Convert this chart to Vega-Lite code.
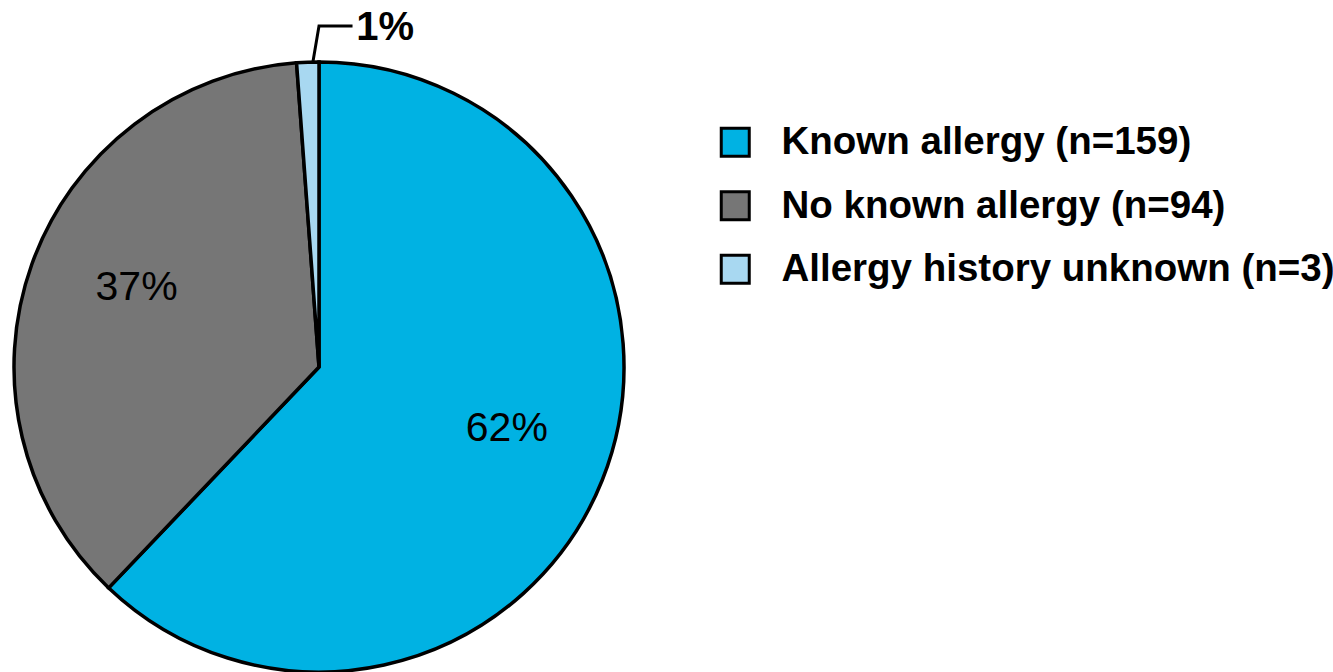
{
  "$schema": "https://vega.github.io/schema/vega-lite/v6.json",
  "width": 610,
  "height": 610,
  "autosize": {"type": "none"},
  "padding": {"left": 14, "top": 62, "right": 709, "bottom": 0},
  "background": "white",
  "config": {"view": {"stroke": null}},
  "datasets": {
    "slices": [
      {"category": "Known allergy (n=159)", "n": 159, "idx": 1, "label": "62%"},
      {"category": "No known allergy (n=94)", "n": 94, "idx": 2, "label": "37%"},
      {"category": "Allergy history unknown (n=3)", "n": 3, "idx": 3, "label": ""}
    ],
    "leader": [
      {"px": -0.02, "py": 1.0, "step": 1},
      {"px": 0.0, "py": 1.118, "step": 2},
      {"px": 0.105, "py": 1.118, "step": 3}
    ],
    "leaderLabel": [
      {"px": 0.122, "py": 1.112, "text": "1%"}
    ]
  },
  "layer": [
    {
      "data": {"name": "slices"},
      "mark": {"type": "arc", "outerRadius": 305, "stroke": "black", "strokeWidth": 3.5},
      "encoding": {
        "theta": {"field": "n", "type": "quantitative", "stack": true},
        "order": {"field": "idx", "type": "quantitative"},
        "color": {
          "field": "category",
          "type": "nominal",
          "sort": null,
          "scale": {
            "domain": ["Known allergy (n=159)", "No known allergy (n=94)", "Allergy history unknown (n=3)"],
            "range": ["#00B2E3", "#767676", "#A8D8F1"]
          },
          "legend": {
            "title": null,
            "orient": "none",
            "legendX": 702,
            "legendY": 61,
            "symbolType": "square",
            "symbolSize": 784,
            "symbolStrokeColor": "black",
            "symbolStrokeWidth": 3,
            "labelFont": "Liberation Sans",
            "labelFontSize": 38.5,
            "labelFontWeight": "bold",
            "labelColor": "black",
            "labelOffset": 27,
            "rowPadding": 22.5,
            "labelLimit": 0
          }
        }
      }
    },
    {
      "data": {"name": "slices"},
      "mark": {"type": "text", "radius": 198, "dy": -12, "dx": 4, "font": "Liberation Sans", "fontSize": 41, "color": "black", "align": "center", "baseline": "middle"},
      "encoding": {
        "theta": {"field": "n", "type": "quantitative", "stack": true},
        "order": {"field": "idx", "type": "quantitative"},
        "detail": {"field": "category", "type": "nominal"},
        "text": {"field": "label", "type": "nominal"}
      }
    },
    {
      "data": {"name": "leader"},
      "mark": {"type": "line", "color": "black", "strokeWidth": 3, "strokeCap": "square"},
      "encoding": {
        "x": {"field": "px", "type": "quantitative", "scale": {"domain": [-1, 1], "zero": false, "nice": false}, "axis": null},
        "y": {"field": "py", "type": "quantitative", "scale": {"domain": [-1, 1], "zero": false, "nice": false}, "axis": null},
        "order": {"field": "step", "type": "quantitative"}
      }
    },
    {
      "data": {"name": "leaderLabel"},
      "mark": {"type": "text", "font": "Liberation Sans", "fontSize": 40, "fontWeight": "bold", "color": "black", "align": "left", "baseline": "middle"},
      "encoding": {
        "x": {"field": "px", "type": "quantitative", "scale": {"domain": [-1, 1], "zero": false, "nice": false}, "axis": null},
        "y": {"field": "py", "type": "quantitative", "scale": {"domain": [-1, 1], "zero": false, "nice": false}, "axis": null},
        "text": {"field": "text", "type": "nominal"}
      }
    }
  ]
}
